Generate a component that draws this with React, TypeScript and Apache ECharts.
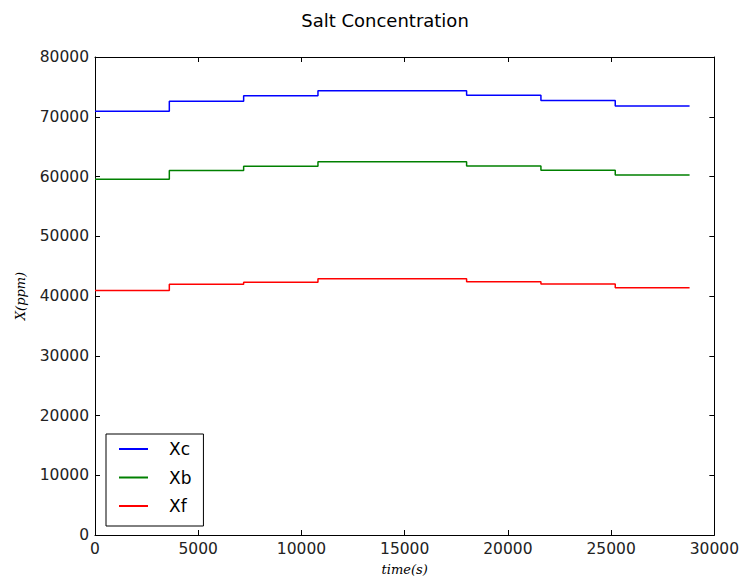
import React, { useEffect, useRef } from "react";
import * as echarts from "echarts";

const times = [0, 3600, 7200, 10800, 18000, 21600, 25200, 28800];
const xcValues = [70900, 72600, 73500, 74350, 73600, 72700, 71800, 71800];
const xbValues = [59550, 61000, 61700, 62450, 61750, 61050, 60250, 60250];
const xfValues = [40900, 41950, 42300, 42900, 42400, 42000, 41400, 41400];
const seriesNames = ["Xc", "Xb", "Xf"];
const seriesColors = ["#0000ff", "#008000", "#ff0000"];

const pair = (vals: number[]) => times.map((t, i) => [t, vals[i]]);

export default function App() {
  const ref = useRef<HTMLDivElement>(null);
  useEffect(() => {
    if (!ref.current) return;
    const chart = echarts.init(ref.current, undefined, { renderer: "svg" });
    const tickFont = {
      fontFamily: "DejaVu Sans",
      fontSize: 15.5,
      color: "#222",
      formatter: (v: number) => String(v),
    };
    const frameAxis = {
      axisLine: { show: true, onZero: false, lineStyle: { color: "#000", width: 1 } },
      axisTick: { show: true, inside: true, length: 5, lineStyle: { color: "#000" } },
      splitLine: { show: false },
    };
    chart.setOption({
      animation: false,
      backgroundColor: "#fff",
      title: {
        text: "Salt Concentration",
        left: 380,
        top: 6,
        textAlign: "center",
        textStyle: { fontFamily: "DejaVu Sans", fontSize: 18, fontWeight: "normal", color: "#000" },
      },
      grid: { left: 95, right: 27, top: 57, bottom: 49, containLabel: false },
      legend: {
        orient: "vertical",
        left: 106,
        top: 434,
        data: seriesNames,
        icon: "rect",
        itemWidth: 29,
        itemHeight: 2,
        itemGap: 10.5,
        padding: [6, 12, 11, 13],
        borderColor: "#000",
        borderWidth: 1,
        borderRadius: 0,
        backgroundColor: "#fff",
        textStyle: {
          fontFamily: "DejaVu Sans",
          fontSize: 17,
          color: "#000",
          lineHeight: 18,
          padding: [0, 0, 0, 16],
        },
      },
      xAxis: [
        {
          type: "value",
          min: 0,
          max: 30000,
          interval: 5000,
          position: "bottom",
          name: "time(s)",
          nameLocation: "middle",
          nameGap: 28,
          nameTextStyle: { fontFamily: "DejaVu Serif", fontStyle: "italic", fontSize: 13, color: "#000" },
          axisLabel: { ...tickFont, margin: 6 },
          ...frameAxis,
        },
        {
          type: "value",
          min: 0,
          max: 30000,
          interval: 5000,
          position: "top",
          axisLabel: { show: false },
          ...frameAxis,
        },
      ],
      yAxis: [
        {
          type: "value",
          min: 0,
          max: 80000,
          interval: 10000,
          position: "left",
          name: "X(ppm)",
          nameLocation: "middle",
          nameGap: 68,
          nameTextStyle: { fontFamily: "DejaVu Serif", fontStyle: "italic", fontSize: 13, color: "#000" },
          axisLabel: { ...tickFont, margin: 6 },
          ...frameAxis,
        },
        {
          type: "value",
          min: 0,
          max: 80000,
          interval: 10000,
          position: "right",
          axisLabel: { show: false },
          ...frameAxis,
        },
      ],
      series: [xcValues, xbValues, xfValues].map((vals, i) => ({
        name: seriesNames[i],
        type: "line",
        step: "end",
        data: pair(vals),
        showSymbol: false,
        symbol: "none",
        color: seriesColors[i],
        lineStyle: { color: seriesColors[i], width: 1.5 },
        itemStyle: { color: seriesColors[i] },
      })),
    });
    return () => chart.dispose();
  }, []);
  return (
    <div
      ref={ref}
      style={{ position: "fixed", left: 0, top: 0, width: 742, height: 584 }}
    />
  );
}
